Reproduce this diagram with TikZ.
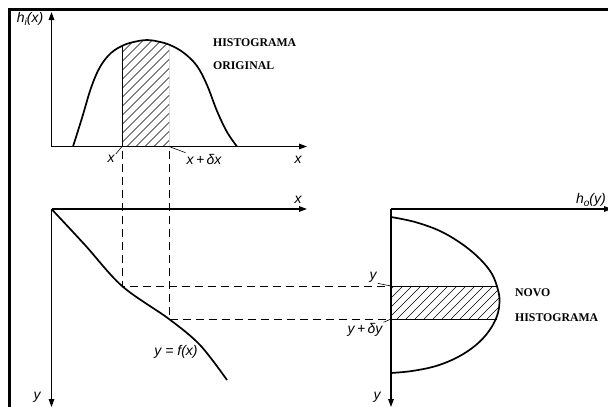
\documentclass[tikz,border=0pt]{standalone}
\usepackage{fontspec}
\setmainfont{Liberation Serif}
\setsansfont{Liberation Sans}
\usetikzlibrary{arrows.meta,positioning}
\newcommand{\lowidx}[1]{{\fontsize{10}{10}\selectfont\raisebox{-3pt}{#1}}}
\tikzset{
  axis/.style={line width=1.3pt,-{Triangle[length=8pt,width=5.5pt]}},
  curve/.style={line width=1.7pt},
  guide/.style={line width=0.9pt,dash pattern=on 8pt off 5pt},
  hatch/.style={line width=0.6pt},
  edge/.style={line width=1pt},
  leader/.style={line width=0.6pt},
  lbl/.style={font=\sffamily\itshape\fontsize{14}{14}\selectfont,inner sep=1pt},
  title/.style={font=\bfseries\fontsize{11.8}{11.8}\selectfont,anchor=west,inner sep=0pt}
}
\begin{document}
\begin{tikzpicture}[x=1pt,y=-1pt]
  \useasboundingbox (0,0) rectangle (608,407);
  \fill[white] (0,0) rectangle (608,407);
  \draw[line width=3pt] (608,9.5) -- (9.5,9.5) -- (9.5,407);

  % original histogram
  \coordinate (oi) at (51.5,146.5);
  \coordinate (oiy) at (51.5,12);
  \coordinate (oix) at (307,146.5);
  \def\hicurve{plot[smooth,tension=0.6] coordinates {(73,146.5) (82,118) (91,88) (100,67) (111,53) (124,45) (136,41.5) (147,40) (158,41.5) (170,45) (184,53) (197,66) (207,85) (217,111) (227,132) (237,146.5)}}
  \begin{scope}
    \clip (122,146.5) rectangle (169,30);
    \clip \hicurve -- cycle;
    \foreach \c in {10,19,...,170} \draw[hatch] (\c,146.5) -- ++(120,-120);
    \draw[edge] (122,146.5) -- (122,30);
    \draw[edge] (169,146.5) -- (169,30);
  \end{scope}
  \draw[curve] \hicurve;
  \draw[axis] (oi) -- (oiy);
  \draw[axis] (oi) -- (oix);
  \node[lbl] (hi) at (30,19) {h\lowidx{i}(x)};
  \node[lbl] (xlo) at (111,159) {x};
  \node[lbl] (xhi) at (204,159) {x\,+\,δx};
  \node[lbl] (xtop) at (298,160) {x};
  \node[title] (hist1) at (213,43) {HISTOGRAMA};
  \node[title] (orig) at (213,66) {ORIGINAL};
  \coordinate (xa) at (122,146.5);
  \coordinate (xb) at (169,146.5);
  \draw[leader] (xlo.north east) -- (xa);
  \draw[leader] (xb) -- (xhi.north west);

  % transfer function
  \coordinate (of) at (51.5,209);
  \coordinate (ofx) at (307,209);
  \coordinate (ofy) at (51.5,407);
  \draw[axis] (of) -- (ofx);
  \draw[axis] (of) -- (ofy);
  \coordinate (pa) at (122,286);
  \coordinate (pb) at (169,319);
  \draw[curve] plot[smooth,tension=0.55] coordinates {(51.5,209) (85,245) (122,286) (169,319) (200,345) (227,380)};
  \node[lbl] (fx) at (176,352) {y = f(x)};
  \node[lbl] (xmid) at (298,200) {x};
  \node[lbl] (ylft) at (37,397) {y};

  % new histogram
  \coordinate (oo) at (391,209);
  \coordinate (oox) at (612,209);
  \coordinate (ooy) at (391,407);
  \def\hocurve{plot[smooth,tension=0.6] coordinates {(391,217) (415,222) (440,231) (462,244) (480,259) (492,274) (498,290) (499.5,302) (497,316) (489,331) (476,345) (458,357) (436,366) (412,371) (391,373)}}
  \begin{scope}
    \clip (391,286) rectangle (510,319);
    \clip \hocurve -- cycle;
    \foreach \c in {352,361,...,504} \draw[hatch] (\c,319) -- ++(40,-40);
  \end{scope}
  \coordinate (ya) at (391,286);
  \coordinate (yb) at (391,319);
  \draw[edge] (ya) -- (497.5,286);
  \draw[edge] (yb) -- (497,319);
  \draw[curve] \hocurve;
  \draw[axis] (oo) -- (oox);
  \draw[axis] (oo) -- (ooy);
  \node[lbl,anchor=east] (ho) at (607,200) {h\lowidx{o}(y)};
  \node[lbl] (yrgt) at (377,397) {y};
  \node[lbl] (ylo) at (373,277) {y};
  \node[lbl] (yhi) at (365,330) {y\,+\,δy};
  \draw[leader] (ylo.south east) -- (ya);
  \draw[leader] (yhi.north east) -- (yb);
  \node[title] (novo) at (515,293) {NOVO};
  \node[title] (hist2) at (515,318) {HISTOGRAMA};

  % projection guides
  \draw[guide] (xa) ++(0,4) -- (pa) -- (ya);
  \draw[guide] (xb) ++(0,4) -- (pb) -- (yb);
\end{tikzpicture}
\end{document}
